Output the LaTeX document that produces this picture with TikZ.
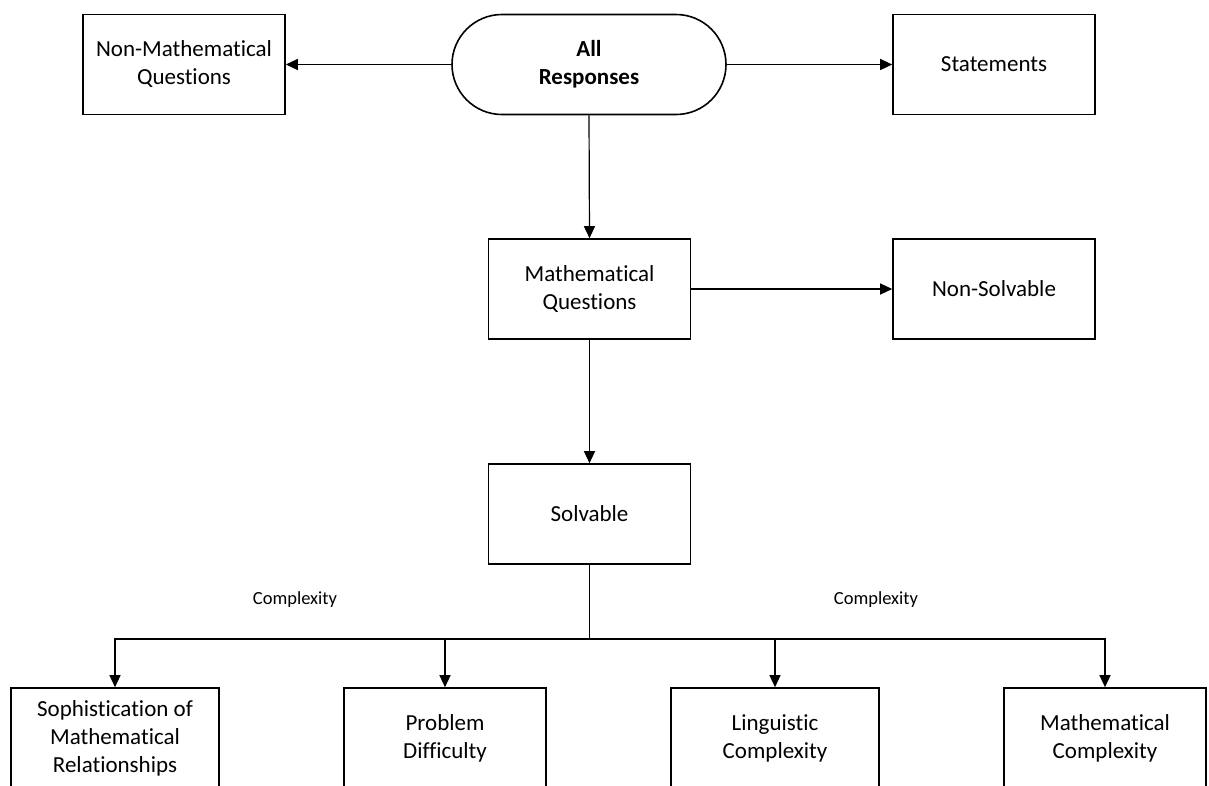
\documentclass[tikz,border=0pt]{standalone}
\usepackage{fontspec}
\setmainfont{Carlito}[Ligatures=NoCommon]
\usetikzlibrary{arrows.meta}

\begin{document}
\begin{tikzpicture}[x=1pt, y=-1pt,
  box/.style={draw, line width=1.6pt, minimum width=202pt, minimum height=100pt,
              inner sep=0pt, align=center, font=\fontsize{23}{28}\selectfont},
  widebox/.style={box, minimum width=208pt},
  pill/.style={box, minimum width=274pt, rounded corners=50pt,
               font=\fontsize{23}{28}\selectfont\bfseries},
  link/.style={line width=1.2pt, -{Triangle[length=12pt, width=11pt]}},
  stem/.style={line width=1.7pt},
  tag/.style={font=\fontsize{18.5}{22}\selectfont, inner sep=0pt}]

  % page frame
  \path[use as bounding box] (0,0) rectangle (1209,785);
  \clip (0,0) rectangle (1209,785);

  % top row
  \node[pill] (all)   at (589,64.5) {All\\Responses};
  \node[box]  (nonmq) at (184,64.5) {Non-Mathematical\\Questions};
  \node[box]  (stmt)  at (994,64.5) {Statements};

  % middle levels
  \node[box] (mq)     at (589.5,289) {Mathematical\\Questions};
  \node[box] (nonsol) at (994,289)   {Non-Solvable};
  \node[box] (solv)   at (589.5,514) {Solvable};

  % complexity dimensions
  \node[widebox] (soph) at (115,738)  {Sophistication of\\Mathematical\\Relationships};
  \node[box]     (diff) at (445,738)  {Problem\\Difficulty};
  \node[widebox] (ling) at (775,738)  {Linguistic\\Complexity};
  \node[box]     (mcx)  at (1105,738) {Mathematical\\Complexity};

  % branch labels
  \node[tag] (cxl) at (295,600) {Complexity};
  \node[tag] (cxr) at (876,600) {Complexity};

  % connectors
  \draw[link] (all.west) -- (nonmq.east);
  \draw[link] (all.east) -- (stmt.west);
  \draw[link] (all.south) -- (mq.north);
  \draw[link] (mq.east) -- (nonsol.west);
  \draw[link] (mq.south) -- (solv.north);

  \coordinate (bar) at (589.5,639);
  \draw[stem] (solv.south) -- (bar);
  \draw[link] (bar) -| (soph.north);
  \draw[link] (bar) -| (diff.north);
  \draw[link] (bar) -| (ling.north);
  \draw[link] (bar) -| (mcx.north);
\end{tikzpicture}
\end{document}
